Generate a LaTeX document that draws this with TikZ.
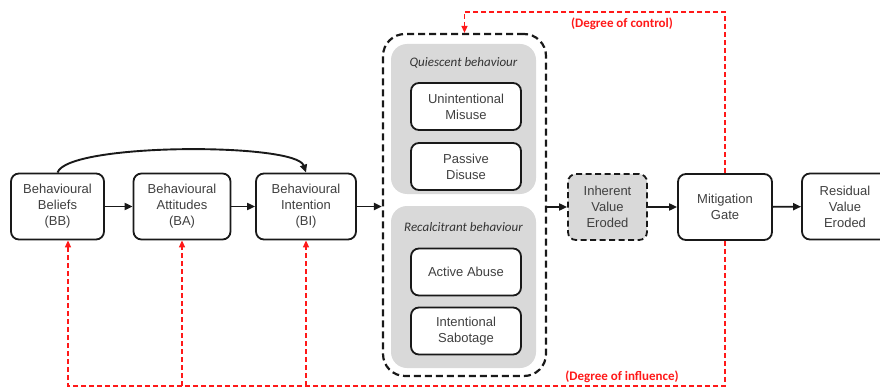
\documentclass[tikz,border=0pt]{standalone}
\usepackage{fontspec}
\setmainfont{Liberation Sans}
\newfontfamily\calib{Carlito}
\usetikzlibrary{arrows.meta}

\begin{document}
\begin{tikzpicture}[x=1pt,y=1pt]
    \tikzstyle{every node}+=[inner sep=0pt]
    \tikzstyle{blk}=[draw=black!90, line width=1.8pt, rounded corners=8pt, fill=white, align=center, text=black!75, font=\fontsize{13}{16}\selectfont, minimum height=66pt]
    \tikzstyle{sub}=[blk, minimum width=110pt, minimum height=47pt]
    \tikzstyle{panel}=[fill=black!15, rounded corners=16pt, minimum width=145pt]
    \tikzstyle{ttl}=[font=\calib\itshape\fontsize{13}{16}\selectfont, text=black!80]
    \tikzstyle{lab}=[font=\calib\bfseries\fontsize{13}{15}\selectfont, text=red!90]
    \tikzstyle{flow}=[black!90, line width=1.9pt, -{Triangle[length=8pt,width=7pt]}]
    \tikzstyle{ctl}=[red!90, line width=1.4pt, dash pattern=on 5pt off 3pt, -{Triangle[length=7pt,width=6pt]}]
    \useasboundingbox (0,0) rectangle (880,-390);
    % behaviour chain
    \node[blk, minimum width=93pt] (BB) at (57.5,-206.5) {Behavioural\\Beliefs\\(BB)};
    \node[blk, minimum width=97pt] (BA) at (182,-206.5) {Behavioural\\Attitudes\\(BA)};
    \node[blk, minimum width=100pt] (BI) at (306,-206.5) {Behavioural\\Intention\\(BI)};
    % behaviour types
    \node[draw=black!90, line width=2.2pt, dash pattern=on 7pt off 4pt, rounded corners=22pt, minimum width=163pt, minimum height=342pt] (outer) at (464.5,-205) {};
    \node[panel, minimum height=150pt] (quiet) at (463.5,-119) {};
    \node[panel, minimum height=162pt] (recal) at (463.5,-287) {};
    \node[ttl] (qt) at (463.5,-63) {Quiescent behaviour};
    \node[ttl] (rt) at (463.5,-227) {Recalcitrant behaviour};
    \node[sub] (UM) at (466,-106.5) {Unintentional\\Misuse};
    \node[sub] (PD) at (466,-166.5) {Passive\\Disuse};
    \node[sub] (AA) at (466,-272) {Active Abuse};
    \node[sub] (IS) at (466,-331) {Intentional\\Sabotage};
    % value
    \node[blk, fill=black!15, dash pattern=on 6pt off 3.5pt, minimum width=79pt] (IVE) at (607.5,-207) {Inherent\\Value\\Eroded};
    \node[blk, minimum width=94pt] (MG) at (725,-207) {Mitigation\\Gate};
    \node[blk, minimum width=86pt] (RVE) at (845,-206.5) {Residual\\Value\\Eroded};
    % flows
    \draw[flow] (BB) -- (BA);
    \draw[flow] (BA) -- (BI);
    \draw[flow] (BI.east) -- (outer.west |- BI.east);
    \draw[flow] (outer.east |- IVE.west) -- (IVE.west);
    \draw[flow] (IVE) -- (MG);
    \draw[flow] (MG) -- (RVE);
    \draw[flow] (BB.north) .. controls +(10,30) and +(-10,30) .. (BI.north);
    % feedback
    \coordinate (top) at (0,-12);
    \coordinate (bot) at (0,-386);
    \draw[ctl] (MG.north) |- (outer.north |- top) -- (outer.north);
    \draw[ctl] (MG.south) |- ([xshift=10.5pt]BB.south |- bot) -- ([xshift=10.5pt]BB.south);
    \draw[ctl] (BA.south |- bot) -- (BA.south);
    \draw[ctl] (BI.south |- bot) -- (BI.south);
    \node[lab] (ctrl) at (622,-24) {(Degree of control)};
    \node[lab] (infl) at (622,-377) {(Degree of influence)};
\end{tikzpicture}
\end{document}
